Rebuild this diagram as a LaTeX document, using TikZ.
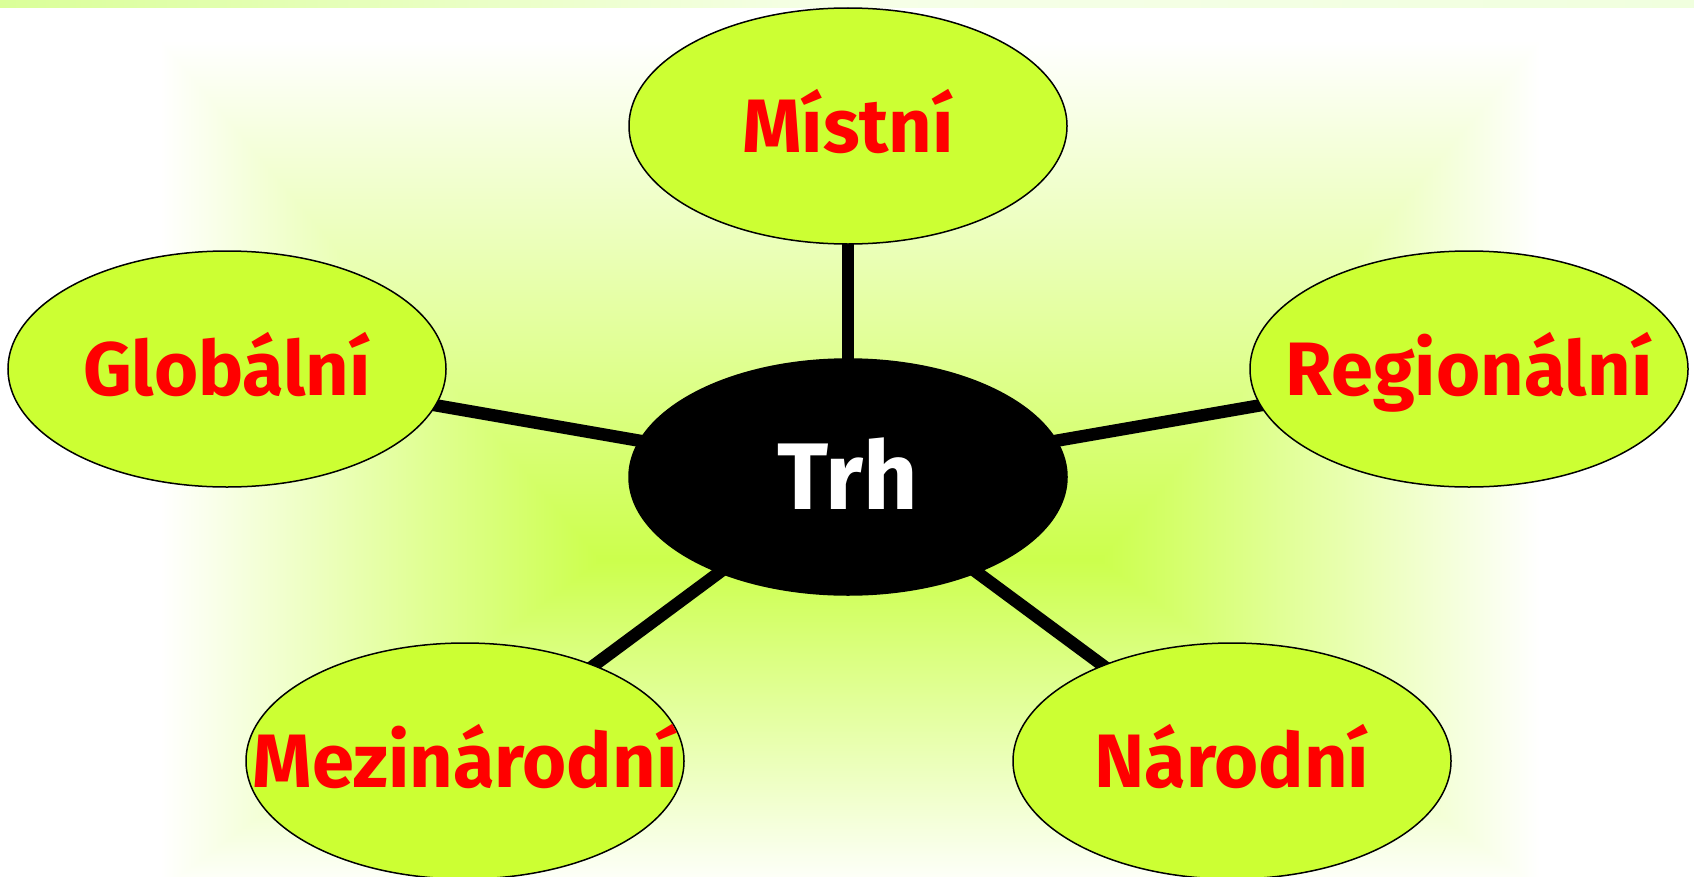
\documentclass[tikz,border=0pt]{standalone}
\usepackage{fontspec}
\setmainfont{Fira Sans}
\usetikzlibrary{shapes.geometric}

\pgfdeclarelayer{bg}
\pgfdeclarelayer{links}
\pgfsetlayers{bg,links,main}

% palette
\definecolor{leaf}{RGB}{204,255,51}
\definecolor{stripL}{RGB}{218,255,153}
\definecolor{stripM}{RGB}{246,255,232}
\definecolor{stripR}{RGB}{240,255,222}

% lime glow behind the hub, over the whole 1694 x 876 page.
% (x, y) in bp with y upwards; Yd = 876 - y runs downwards.
% Rectangular contours around a central band (|X-850| <= 250) at row
% Yd = 560, fading faster below than above; colour = lime + (white - lime) * t
\pgfdeclarefunctionalshading{meadow}{\pgfpoint{0bp}{0bp}}{\pgfpoint{1694bp}{876bp}}{}{
  876 exch sub
  exch
  850 sub abs 250 sub dup 0 lt {pop 0} if 440 div
  exch
  560 sub dup 0 lt {neg 520 div} {330 div} ifelse
  2 copy lt {exch} if pop
  dup 1 gt {pop 1} if
  dup 0.2 mul 0.8 add
  exch
  1 exch
  0.7 mul 0.3 add
}

\tikzset{
  leafnode/.style={ellipse, draw=black, line width=1.5bp, fill=leaf,
    minimum width=438bp, minimum height=236bp, inner sep=0pt,
    text=red, font=\fontsize{76}{80}\selectfont\bfseries,
    text height=52bp, text depth=0bp},
  hubnode/.style={leafnode, fill=black, text=white,
    font=\fontsize{95}{99}\selectfont\bfseries, text height=65bp},
  link/.style={line width=12.5bp, draw=black}
}

\begin{document}
\begin{tikzpicture}[x=1bp,y=-1bp]
\useasboundingbox (0,0) rectangle (1694,876);

% market hub and its five scopes
\node[hubnode]  (trh)    at (848,477)  {\makebox[0pt]{Trh}};
\node[leafnode] (mistni) at (848,126)  {\makebox[0pt]{Místní}};
\node[leafnode] (glob)   at (227,369)  {\makebox[0pt]{Globální}};
\node[leafnode] (reg)    at (1469,369) {\makebox[0pt]{Regionální}};
\node[leafnode] (mezi)   at (465,761)  {\makebox[0pt]{Mezinárodní}};
\node[leafnode] (nar)    at (1232,761) {\makebox[0pt]{Národní}};

% spokes from the hub
\begin{pgfonlayer}{links}
  \draw[link] (trh.center) -- (mistni.center);
  \draw[link] (trh.center) -- (glob.center);
  \draw[link] (trh.center) -- (reg.center);
  \draw[link] (trh.center) -- (mezi.center);
  \draw[link] (trh.center) -- (nar.center);
\end{pgfonlayer}

% backdrop
\begin{pgfonlayer}{bg}
  \fill[white] (0,0) rectangle (1694,876);
  \pgftext[left,bottom,at={\pgfpoint{0bp}{-876bp}}]{\pgfuseshading{meadow}}
  \shade[left color=stripL, right color=stripR, middle color=stripM]
    (0,0) rectangle (1694,7);
\end{pgfonlayer}
\end{tikzpicture}
\end{document}
